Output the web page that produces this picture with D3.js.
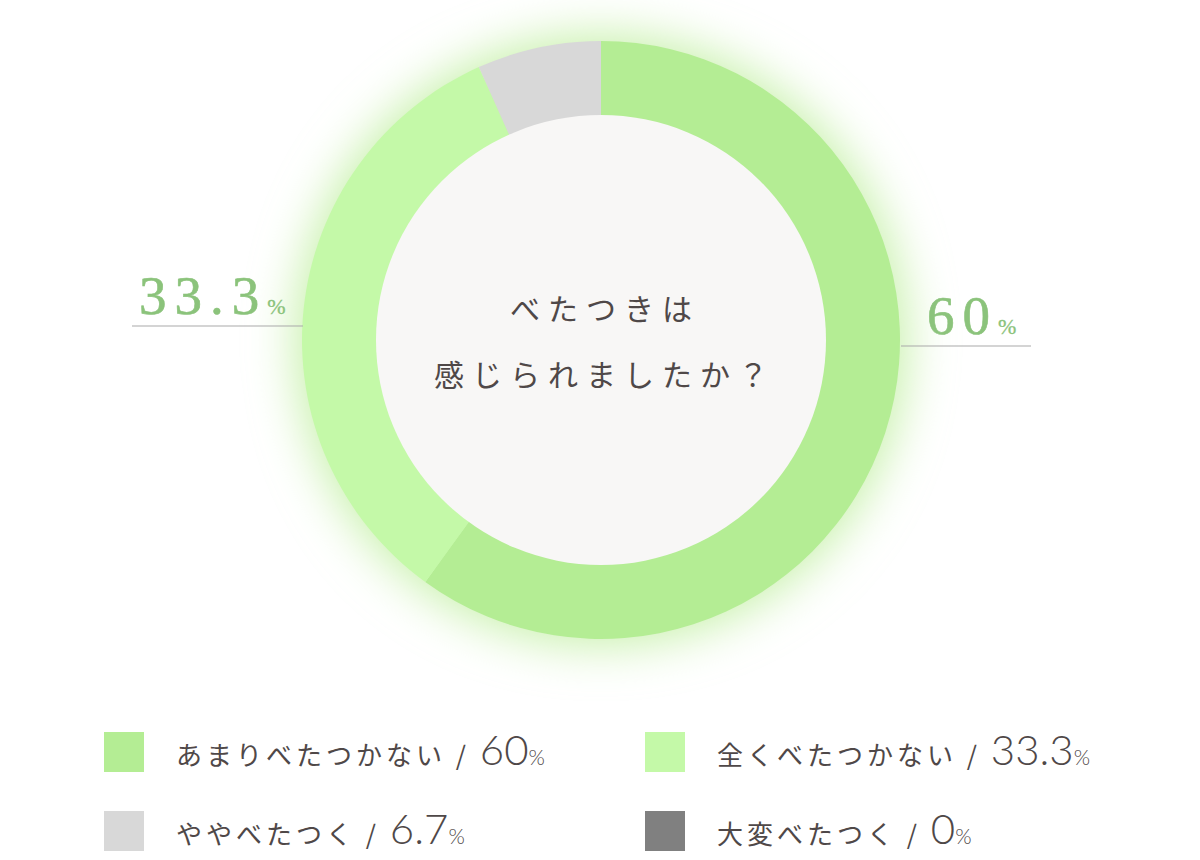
<!DOCTYPE html>
<html>
<head>
<meta charset="utf-8">
<script src="https://cdn.jsdelivr.net/npm/d3@7"></script>
<style>
  body { margin: 0; background: #fff; }
  svg { display: block; }
</style>
</head>
<body>
<div id="chart"></div>
<script>
// data
var categories = ["あまりべたつかない", "全くべたつかない", "ややべたつく", "大変べたつく"];
var values = [60, 33.3, 6.7, 0];
var valueLabels = ["60", "33.3", "6.7", "0"];
var colors = ["#b4ed94", "#c4f9a8", "#d8d8d8", "#808080"];
var titleLines = ["べたつきは", "感じられましたか？"];

var width = 1200, height = 860;
var cx = 601, cy = 340;
var outerR = 299, innerR = 225;

var svg = d3.select("#chart").append("svg")
    .attr("width", width)
    .attr("height", height);

var defs = svg.append("defs");
var glow = defs.append("filter")
    .attr("id", "glow")
    .attr("x", "-40%").attr("y", "-40%")
    .attr("width", "180%").attr("height", "180%");
glow.append("feGaussianBlur")
    .attr("stdDeviation", 24);

var g = svg.append("g")
    .attr("transform", `translate(${cx},${cy})`);

// soft green halo behind the ring
g.append("circle")
    .attr("r", outerR + 6)
    .attr("fill", "#c6f0a9")
    .attr("filter", "url(#glow)");

var pie = d3.pie()
    .sort(null)
    .value((d) => d);

var arc = d3.arc()
    .innerRadius(innerR - 2)
    .outerRadius(outerR);

var arcs = pie(values);

g.selectAll(".slice")
    .data(arcs)
  .enter().append("path")
    .attr("class", "slice")
    .attr("d", arc)
    .attr("fill", (d, i) => colors[i]);

g.append("circle")
    .attr("r", innerR)
    .attr("fill", "#f8f7f6");

// center question
g.selectAll(".title")
    .data(titleLines)
  .enter().append("text")
    .attr("class", "title")
    .attr("x", 4)
    .attr("y", (d, i) => -20 + i * 66)
    .attr("text-anchor", "middle")
    .attr("font-family", "'Noto Sans CJK JP', sans-serif")
    .attr("font-size", 30)
    .attr("letter-spacing", 8)
    .attr("fill", "#4f4848")
    .text((d) => d);

// big percentage callouts (left: 33.3, right: 60)
var callouts = [
  {i: 1, y: -14, x0: 132 - cx, x1: -outerR + 1, tx: 139 - cx},
  {i: 0, y: 6, x0: outerR + 1, x1: 1031 - cx, tx: 927 - cx}
];

callouts.forEach((c) => {
  g.append("line")
      .attr("x1", c.x0)
      .attr("x2", c.x1)
      .attr("y1", c.y)
      .attr("y2", c.y)
      .attr("stroke", "#a9a9a9")
      .attr("stroke-width", 1);

  var t = g.append("text")
      .attr("x", c.tx)
      .attr("y", c.y - 12)
      .attr("font-family", "'Liberation Serif', 'Times New Roman', serif")
      .attr("fill", "#8bc37b")
      .attr("stroke", "#8bc37b")
      .attr("stroke-width", 0.6);
  t.append("tspan")
      .attr("font-size", 55)
      .attr("letter-spacing", 8)
      .text(valueLabels[c.i]);
  t.append("tspan")
      .attr("font-size", 22)
      .attr("stroke-width", 0.3)
      .text("%");
});

// legend
var legendPos = [
  {x: 104, y: 732},
  {x: 645, y: 732},
  {x: 104, y: 811},
  {x: 645, y: 811}
];

var legend = svg.selectAll(".legend")
    .data(categories)
  .enter().append("g")
    .attr("class", "legend")
    .attr("transform", (d, i) => `translate(${legendPos[i].x},${legendPos[i].y})`);

legend.append("rect")
    .attr("width", 40)
    .attr("height", 40)
    .attr("fill", (d, i) => colors[i]);

var lt = legend.append("text")
    .attr("x", 72)
    .attr("y", 33)
    .attr("fill", "#4f4848");

lt.append("tspan")
    .attr("font-family", "'Noto Sans CJK JP', sans-serif")
    .attr("font-size", 26)
    .attr("letter-spacing", 4)
    .text((d) => d + " / ");
lt.append("tspan")
    .attr("font-family", "Lato, 'Noto Sans', sans-serif")
    .attr("font-weight", 300)
    .attr("font-size", 42)
    .text((d, i) => valueLabels[i]);
lt.append("tspan")
    .attr("font-family", "Lato, 'Noto Sans', sans-serif")
    .attr("font-weight", 300)
    .attr("font-size", 21)
    .text("%");
</script>
</body>
</html>
